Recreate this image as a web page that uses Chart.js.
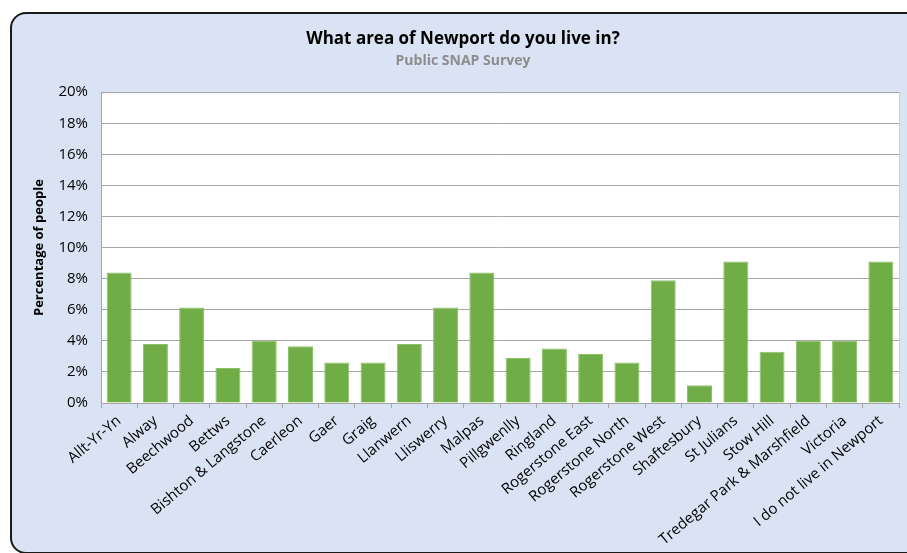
<!DOCTYPE html>
<html>
<head>
<meta charset="utf-8">
<script src="https://cdn.jsdelivr.net/npm/chart.js@4/dist/chart.umd.min.js"></script>
<style>
  html, body { margin: 0; padding: 0; background: #fff; overflow: hidden; }
  #wrap { position: relative; width: 907px; height: 553px; }
  #frame {
    position: absolute; left: 10px; top: 12px; width: 910px; height: 538px;
    border: 2px solid #1a1a1a; border-radius: 16px; background: #dae3f3;
  }
  #myChart { position: absolute; left: 0; top: 0; }
</style>
</head>
<body>
<div id="wrap">
  <div id="frame"></div>
  <canvas id="myChart" width="907" height="553"></canvas>
</div>
<script>
// Areas of Newport (x axis categories)
var areas = ['Allt-Yr-Yn', 'Alway', 'Beechwood', 'Bettws', 'Bishton & Langstone', 'Caerleon',
  'Gaer', 'Graig', 'Llanwern', 'Lliswerry', 'Malpas', 'Pillgwenlly', 'Ringland',
  'Rogerstone East', 'Rogerstone North', 'Rogerstone West', 'Shaftesbury', 'St Julians',
  'Stow Hill', 'Tredegar Park & Marshfield', 'Victoria', 'I do not live in Newport'];

// Percentage of people per area
var percentages = [8.4, 3.8, 6.15, 2.25, 4.0, 3.65, 2.6, 2.6, 3.8, 6.15, 8.4, 2.9, 3.5,
  3.15, 2.6, 7.9, 1.15, 9.1, 3.3, 4.0, 4.0, 9.1];

// y axis ticks (percent)
var yMin = 0, yMax = 20, yStep = 2;

var font = '"Open Sans", Lato, sans-serif';

// white plot area with a faint border
var plotBackground = {
  id: 'plotBackground',
  beforeDraw: function(chart) {
    var a = chart.chartArea, c = chart.ctx;
    c.save();
    c.fillStyle = '#ffffff';
    c.fillRect(a.left, a.top, a.right - a.left, a.bottom - a.top);
    c.strokeStyle = '#d0d0d0';
    c.lineWidth = 1;
    c.strokeRect(a.left + 0.5, a.top + 0.5, a.right - a.left, a.bottom - a.top);
    c.restore();
  }
};

var ctx = document.getElementById('myChart').getContext('2d');

var myBarChart = new Chart(ctx, {
  type: 'bar',
  data: {
    labels: areas,
    datasets: [{
      label: 'Percentage of people',
      data: percentages,
      backgroundColor: '#70ad47',
      borderColor: '#8cc069',
      borderWidth: 1,
      barPercentage: 0.69,
      categoryPercentage: 1
    }]
  },
  options: {
    responsive: false,
    animation: false,
    layout: { padding: { top: 21, left: 27, right: 8, bottom: 0 } },
    plugins: {
      legend: { display: false },
      tooltip: { enabled: false },
      title: {
        display: true,
        text: 'What area of Newport do you live in?',
        color: '#000',
        font: { family: font, size: 17, weight: 'bold' },
        padding: { top: 8, bottom: 3 }
      },
      subtitle: {
        display: true,
        text: 'Public SNAP Survey',
        color: '#8c8c8c',
        font: { family: font, size: 14, weight: 'bold' },
        padding: { top: 0, bottom: 23 }
      }
    },
    scales: {
      x: {
        grid: { drawOnChartArea: false, drawTicks: true, tickLength: 5, color: '#a6a6a6', offset: true },
        border: { color: '#a6a6a6' },
        ticks: {
          autoSkip: false, minRotation: 40, maxRotation: 40, padding: 4,
          color: '#000', font: { family: font, size: 15 }
        },
        afterFit: function(scale) { scale.height = 150; }
      },
      y: {
        min: yMin, max: yMax,
        grid: { color: '#a6a6a6', drawTicks: false },
        border: { color: '#a6a6a6' },
        ticks: {
          stepSize: yStep, padding: 13, color: '#000',
          font: { family: font, size: 15 },
          callback: function(v) { return v + '%'; }
        },
        title: {
          display: true, text: 'Percentage of people', color: '#000',
          font: { family: font, size: 13, weight: 'bold' }, padding: { top: 4, bottom: 0 }
        },
        afterFit: function(scale) { scale.width = 74; }
      }
    }
  },
  plugins: [plotBackground]
});
</script>
</body>
</html>
